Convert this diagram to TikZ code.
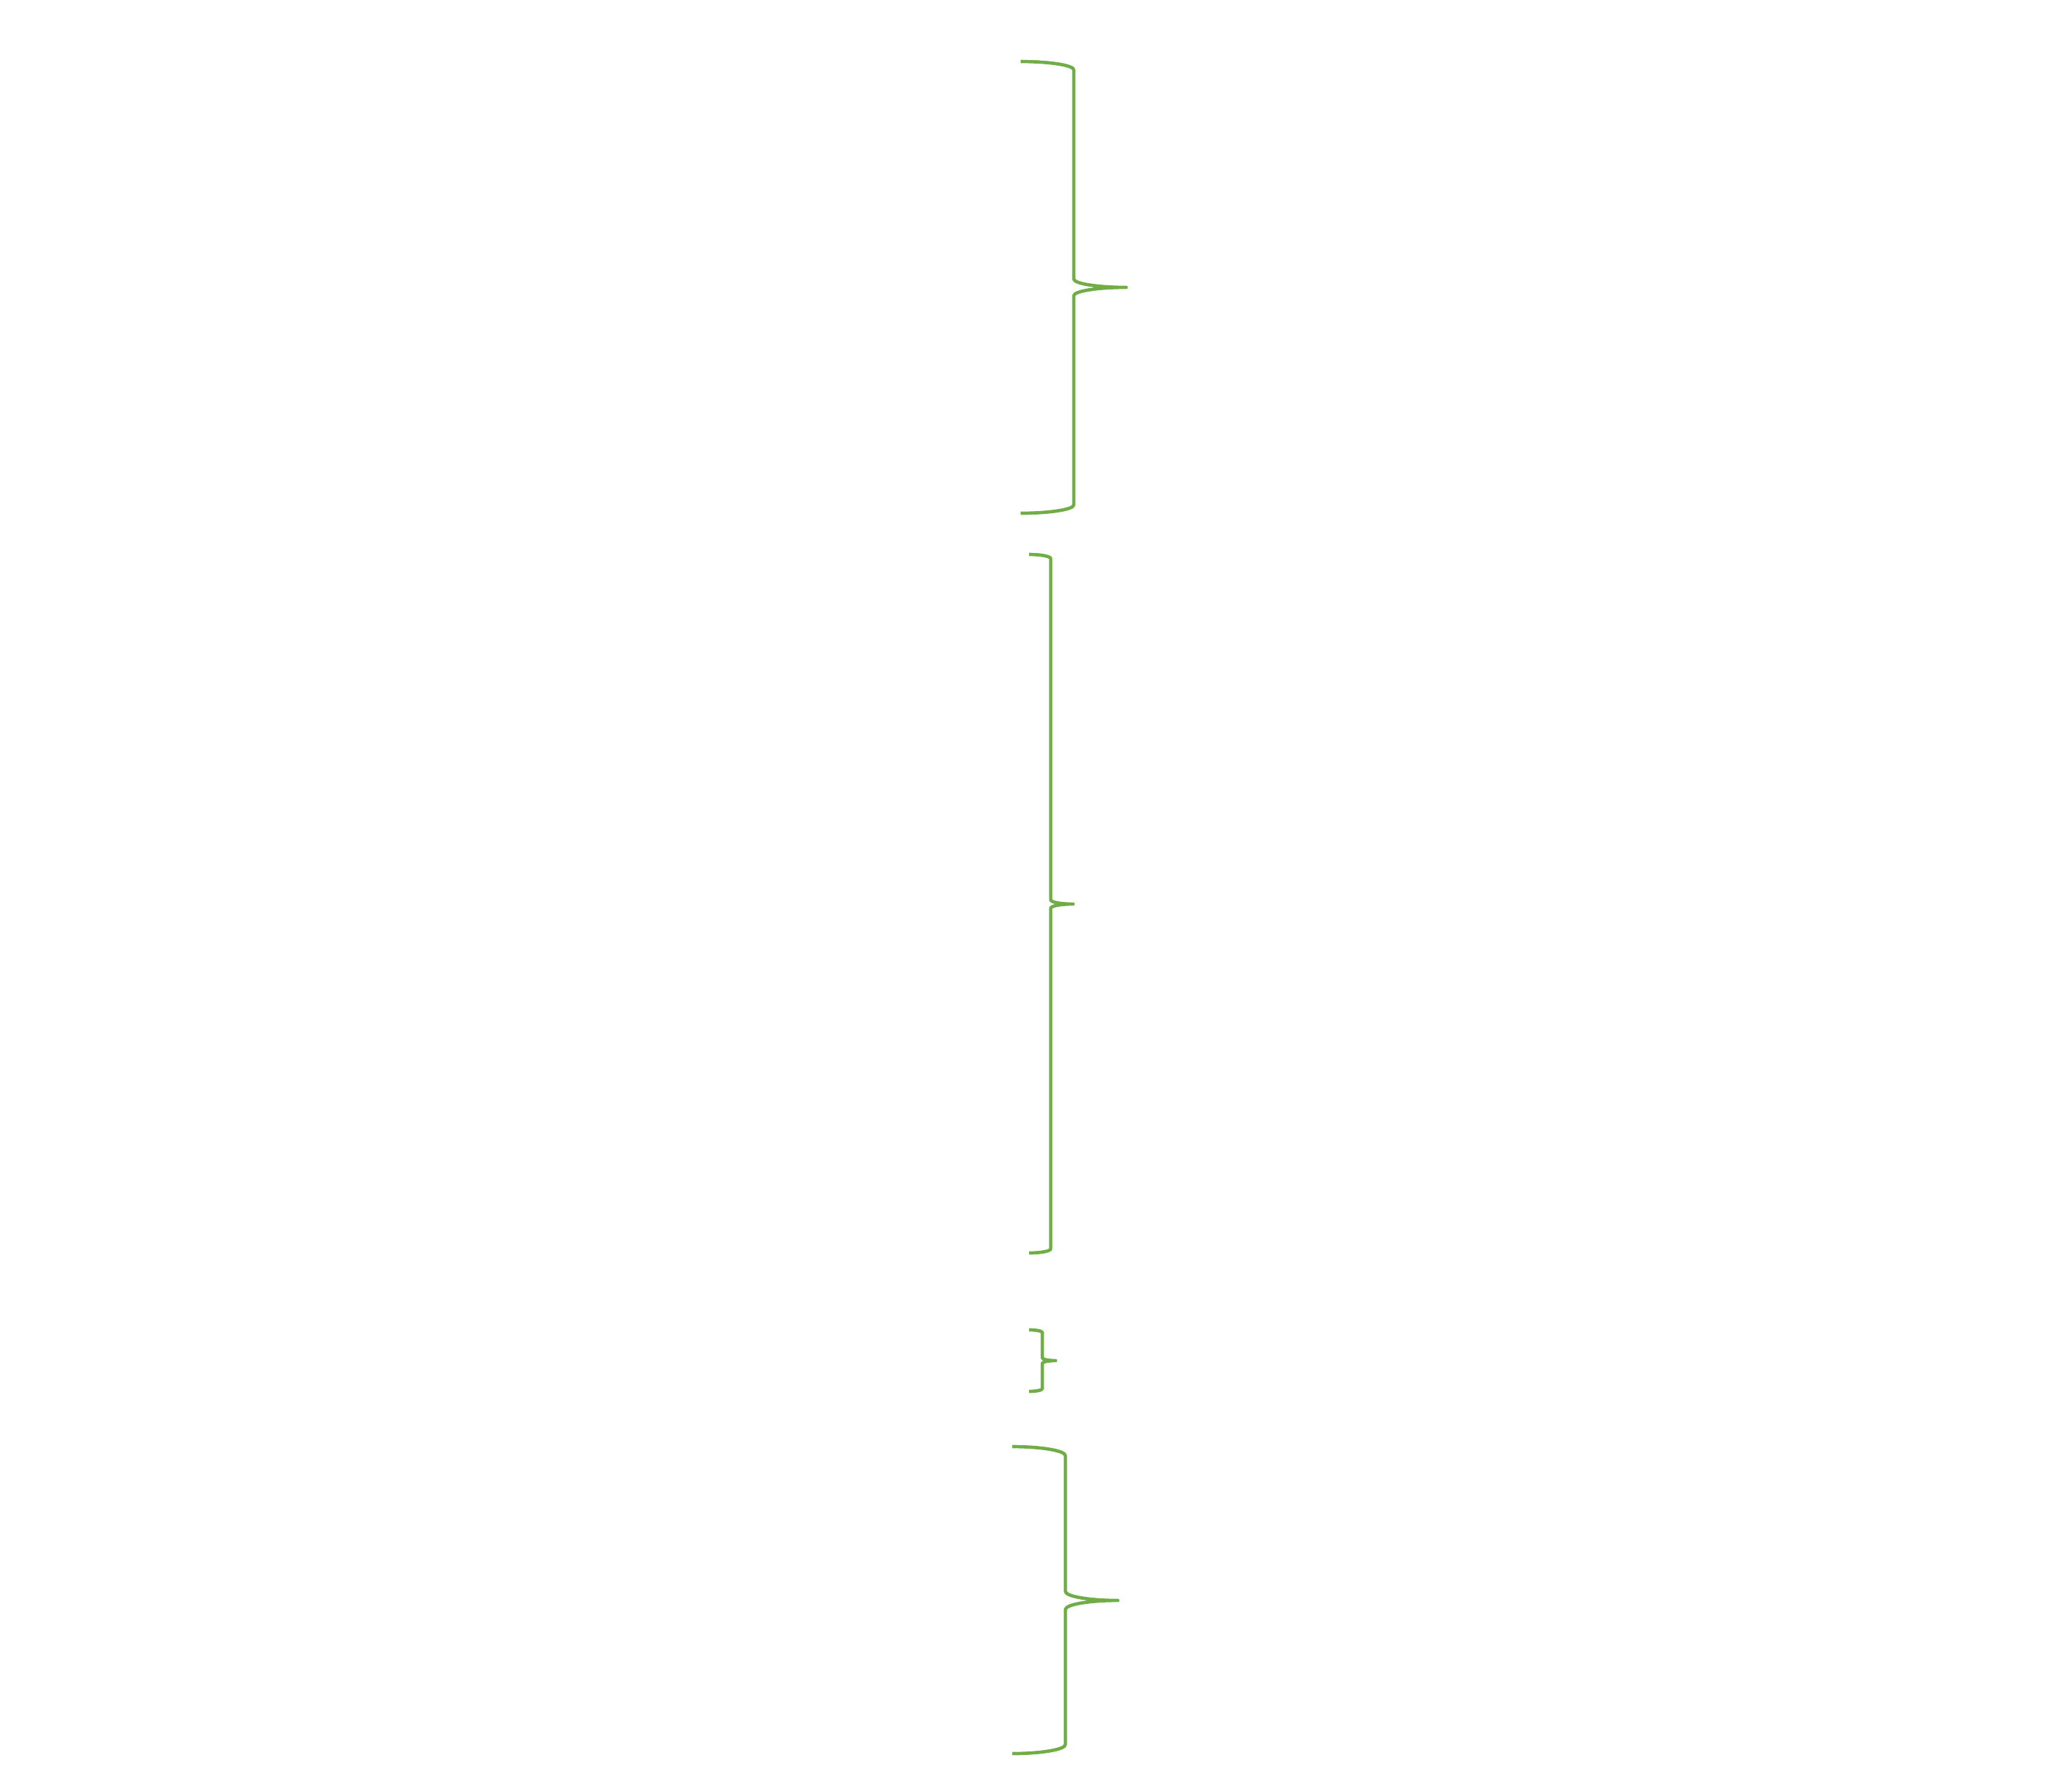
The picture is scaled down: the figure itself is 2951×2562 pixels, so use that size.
\documentclass[tikz,border=0pt]{standalone}
\definecolor{bracegreen}{HTML}{70AD47}
\tikzset{bracestroke/.style={draw=bracegreen,line width=0.047cm,line cap=butt,line join=round}}
% #1 left end x, #2 vertical x, #3 tip x, #4 top y, #5 mid y, #6 bottom y, #7 corner radius (y)
\newcommand\rightbrace[7]{%
  \draw[bracestroke]
    (#1,#4) .. controls ({#1+0.5523*(#2-#1)},#4) and (#2,{#4+#7-0.5523*#7}) .. (#2,{#4+#7})
    -- (#2,{#5-#7})
    .. controls (#2,{#5-#7+0.5523*#7}) and ({#3-0.5523*(#3-#2)},#5) .. (#3,#5)
    .. controls ({#3-0.5523*(#3-#2)},#5) and (#2,{#5+#7-0.5523*#7}) .. (#2,{#5+#7})
    -- (#2,{#6-#7})
    .. controls (#2,{#6-#7+0.5523*#7}) and ({#1+0.5523*(#2-#1)},#6) .. (#1,#6);}
\begin{document}
\begin{tikzpicture}[x=0.01cm,y=-0.01cm]
\useasboundingbox (0,0) rectangle (2951,2562);
\rightbrace{1460}{1536}{1611}{88}{411}{734}{12}
\rightbrace{1472}{1503}{1535}{793}{1293}{1792}{6}
\rightbrace{1472}{1491}{1510}{1902}{1946}{1990}{4}
\rightbrace{1448}{1524}{1599}{2069}{2289}{2508}{13}
\end{tikzpicture}
\end{document}
